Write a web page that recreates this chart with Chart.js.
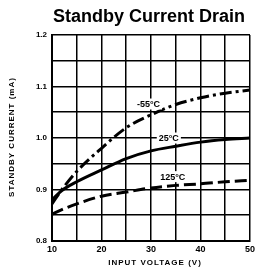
<!DOCTYPE html>
<html>
<head>
<meta charset="utf-8">
<script src="https://cdn.jsdelivr.net/npm/chart.js@4"></script>
<style>
  html, body { margin: 0; padding: 0; background: #fff; }
  #wrap { width: 258px; height: 271px; position: relative; }
</style>
</head>
<body>
<div id="wrap"><canvas id="chart" width="258" height="271"></canvas></div>
<script>
const TITLE = "Standby Current Drain";
const X_TITLE = "INPUT VOLTAGE (V)";
const Y_TITLE = "STANDBY CURRENT (mA)";

const volts = [10, 12, 15, 20, 25, 30, 35, 40, 45, 50];
const minus55 = [0.872, 0.900, 0.935, 0.980, 1.020, 1.045, 1.065, 1.078, 1.087, 1.093];
const plus25 = [0.880, 0.898, 0.915, 0.938, 0.960, 0.975, 0.984, 0.992, 0.997, 1.000];
const plus125 = [0.852, 0.861, 0.872, 0.887, 0.895, 0.903, 0.908, 0.911, 0.915, 0.918];

const seriesLabels = ["-55°C", "25°C", "125°C"];
// where each curve's label sits, in data units
const labelSpots = [[29.5, 1.065], [33.6, 0.999], [34.4, 0.924]];

const FONT = "'Liberation Sans', Arial, sans-serif";

function points(ys) {
  return volts.map((v, i) => ({ x: v, y: ys[i] }));
}

const textPlugin = {
  id: "texts",
  afterDraw(chart) {
    const ctx = chart.ctx;
    const area = chart.chartArea;
    const xs = chart.scales.x;
    const ys = chart.scales.y;
    ctx.save();
    ctx.fillStyle = "#000";
    ctx.textAlign = "center";
    ctx.textBaseline = "middle";

    ctx.font = "bold 18px " + FONT;
    ctx.fillText(TITLE, 149, 17);

    ctx.font = "bold 8px " + FONT;
    ctx.letterSpacing = "1px";
    ctx.fillText(X_TITLE, 155, 263);

    ctx.save();
    ctx.translate(12, 137);
    ctx.rotate(-Math.PI / 2);
    ctx.fillText(Y_TITLE, 0, 0);
    ctx.restore();
    ctx.letterSpacing = "0px";

    ctx.font = "bold 9px " + FONT;
    seriesLabels.forEach((lbl, i) => {
      const px = xs.getPixelForValue(labelSpots[i][0]);
      const py = ys.getPixelForValue(labelSpots[i][1]);
      const w = ctx.measureText(lbl).width;
      ctx.fillStyle = "#fff";
      ctx.fillRect(px - w / 2 - 2, py - 6, w + 4, 11);
      ctx.fillStyle = "#000";
      ctx.fillText(lbl, px, py);
    });
    ctx.restore();
  },
};

new Chart(document.getElementById("chart").getContext("2d"), {
  type: "line",
  data: {
    datasets: [
      {
        label: seriesLabels[0],
        data: points(minus55),
        borderColor: "#000",
        borderWidth: 3,
        borderDash: [12, 4, 3, 4],
        cubicInterpolationMode: "monotone",
        pointRadius: 0,
        fill: false,
      },
      {
        label: seriesLabels[1],
        data: points(plus25),
        borderColor: "#000",
        borderWidth: 3,
        cubicInterpolationMode: "monotone",
        pointRadius: 0,
        fill: false,
      },
      {
        label: seriesLabels[2],
        data: points(plus125),
        borderColor: "#000",
        borderWidth: 3,
        borderDash: [12, 5],
        cubicInterpolationMode: "monotone",
        pointRadius: 0,
        fill: false,
      },
    ],
  },
  options: {
    responsive: false,
    animation: false,
    layout: { padding: { top: 35, right: 8, left: 0, bottom: 0 } },
    plugins: {
      legend: { display: false },
      tooltip: { enabled: false },
      title: { display: false },
    },
    scales: {
      x: {
        type: "linear",
        min: 10,
        max: 50,
        afterFit(scale) { scale.height = 30; },
        border: { color: "#000", width: 2 },
        grid: { color: "#000", lineWidth: 1.5, drawTicks: false },
        ticks: {
          stepSize: 5,
          color: "#000",
          padding: 3,
          font: { family: FONT, size: 9, weight: "bold" },
          callback: (v) => (v % 10 === 0 ? String(v) : ""),
        },
      },
      y: {
        min: 0.8,
        max: 1.2,
        afterFit(scale) { scale.width = 52; },
        border: { color: "#000", width: 2 },
        grid: { color: "#000", lineWidth: 1.5, drawTicks: false },
        ticks: {
          stepSize: 0.05,
          color: "#000",
          padding: 5,
          font: { family: FONT, size: 8, weight: "bold" },
          callback: (v) => (Math.round(v * 100) % 10 === 0 ? v.toFixed(1) : ""),
        },
      },
    },
  },
  plugins: [textPlugin],
});
</script>
</body>
</html>
